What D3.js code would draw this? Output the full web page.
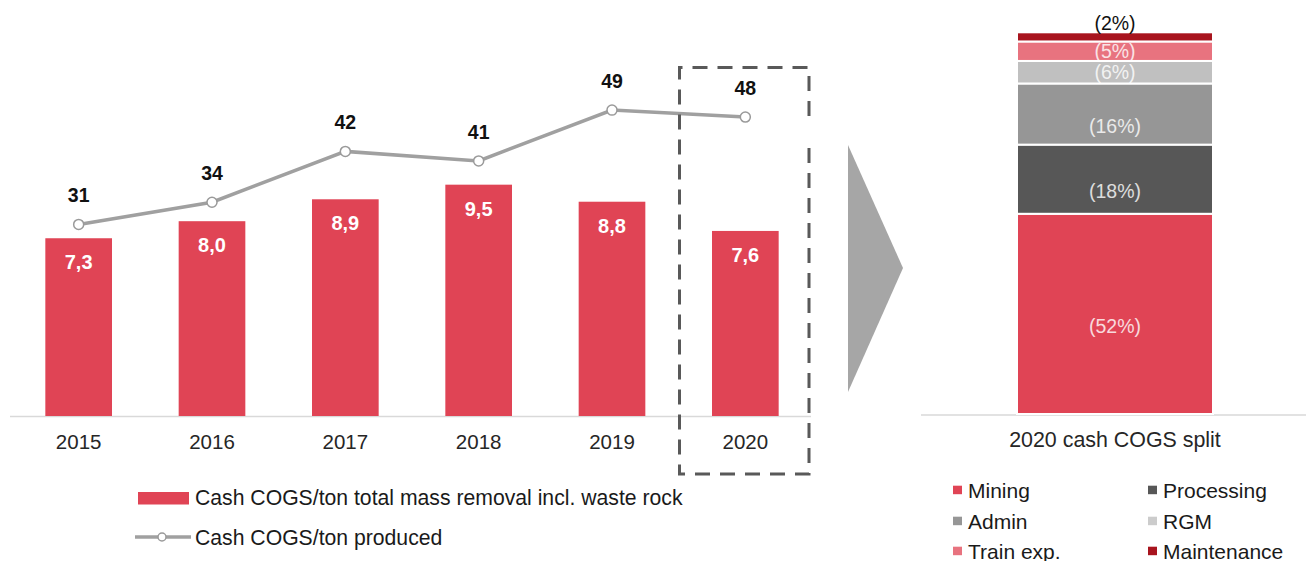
<!DOCTYPE html>
<html>
<head>
<meta charset="utf-8">
<script src="https://cdn.jsdelivr.net/npm/d3@7"></script>
<style>
  body { margin: 0; background: #fff; }
  svg text { font-family: Arial, "Liberation Sans", sans-serif; }
</style>
</head>
<body>
<svg id="chart" width="1306" height="561"></svg>
<script>
// left chart data
const years = ["2015", "2016", "2017", "2018", "2019", "2020"];
const cogsPerTonMass = [7.3, 8.0, 8.9, 9.5, 8.8, 7.6];
const cogsPerTonProduced = [30.8, 34.3, 42.3, 40.8, 48.8, 47.7];

// right chart data (2020 split, %)
const splitCategories = ["Mining", "Processing", "Admin", "RGM", "Train exp.", "Maintenance"];
const splitShares = [52.4, 18.1, 16.0, 5.9, 5.1, 2.4];
const splitTitle = "2020 cash COGS split";

const legendBar = "Cash COGS/ton total mass removal incl. waste rock";
const legendLine = "Cash COGS/ton produced";

const RED = "#e04455";
const splitColors = ["#e04455", "#575757", "#969696", "#c0c0c0", "#e8737f", "#a8141e"];
const legendColors = ["#e04455", "#575757", "#969696", "#cccccc", "#e8737f", "#a8141e"];

const svg = d3.select("#chart");
const commaFmt = d3.formatLocale({ decimal: ",", thousands: ".", grouping: [3], currency: ["", ""] }).format(".1f");

// ---------- left: bars + line ----------
const baseY = 416;
const x = d3.scaleBand().domain(years).range([12, 812]).paddingInner(0.5).paddingOuter(0.25);
const y = d3.scaleLinear().domain([0, 10]).range([baseY, baseY - 243.5]);
// secondary (hidden) axis for the line
const y2 = d3.scaleLinear().domain([0, 60]).range([420, 39]);

// baseline
svg.append("line")
  .attr("x1", 10).attr("x2", 811)
  .attr("y1", baseY + 0.5).attr("y2", baseY + 0.5)
  .attr("stroke", "#d9d9d9").attr("stroke-width", 1.5);

svg.append("g")
  .selectAll("rect")
  .data(cogsPerTonMass)
  .enter()
  .append("rect")
  .attr("x", (d, i) => x(years[i]))
  .attr("y", d => y(d))
  .attr("width", x.bandwidth())
  .attr("height", d => baseY - y(d))
  .attr("fill", RED);

svg.append("g")
  .selectAll("text")
  .data(cogsPerTonMass)
  .enter()
  .append("text")
  .attr("x", (d, i) => x(years[i]) + x.bandwidth() / 2)
  .attr("y", d => y(d) + 31)
  .attr("text-anchor", "middle")
  .style("font-size", "20px")
  .style("font-weight", "bold")
  .style("fill", "#fff")
  .text(d => commaFmt(d));

// x labels
svg.append("g")
  .selectAll("text")
  .data(years)
  .enter()
  .append("text")
  .attr("x", d => x(d) + x.bandwidth() / 2)
  .attr("y", 449)
  .attr("text-anchor", "middle")
  .style("font-size", "20.5px")
  .style("fill", "#262626")
  .text(d => d);

// line
const line = d3.line()
  .x((d, i) => x(years[i]) + x.bandwidth() / 2)
  .y(d => y2(d));

svg.append("path")
  .datum(cogsPerTonProduced)
  .attr("fill", "none")
  .attr("stroke", "#a0a0a0")
  .attr("stroke-width", 3.5)
  .attr("d", line);

svg.append("g")
  .selectAll("circle")
  .data(cogsPerTonProduced)
  .enter()
  .append("circle")
  .attr("cx", (d, i) => x(years[i]) + x.bandwidth() / 2)
  .attr("cy", d => y2(d))
  .attr("r", 5)
  .attr("fill", "#fff")
  .attr("stroke", "#9a9a9a")
  .attr("stroke-width", 1.5);

svg.append("g")
  .selectAll("text")
  .data(cogsPerTonProduced)
  .enter()
  .append("text")
  .attr("x", (d, i) => x(years[i]) + x.bandwidth() / 2)
  .attr("y", d => y2(d) - 22)
  .attr("text-anchor", "middle")
  .style("font-size", "19.5px")
  .style("font-weight", "bold")
  .style("fill", "#111")
  .text(d => Math.round(d));

// dashed highlight box round 2020 (right side has a gap)
const bx0 = 679.5, bx1 = 809, by0 = 67.5, by1 = 474;
svg.append("path")
  .attr("d", `M${bx1},116 L${bx1},${by0} L${bx0},${by0} L${bx0},${by1} L${bx1},${by1} L${bx1},145`)
  .attr("fill", "none")
  .attr("stroke", "#595959")
  .attr("stroke-width", 3)
  .attr("stroke-dasharray", "15,10");

// arrow
svg.append("path")
  .attr("d", "M848,145 L903,268 L848,392 Z")
  .attr("fill", "#a6a6a6");

// left legend
svg.append("rect")
  .attr("x", 138).attr("y", 492)
  .attr("width", 51).attr("height", 12.5)
  .attr("fill", RED);
svg.append("text")
  .attr("x", 195).attr("y", 505)
  .style("font-size", "21.2px").style("fill", "#1a1a1a")
  .text(legendBar);

svg.append("line")
  .attr("x1", 135).attr("x2", 191)
  .attr("y1", 537).attr("y2", 537)
  .attr("stroke", "#a0a0a0").attr("stroke-width", 3.5);
svg.append("circle")
  .attr("cx", 162).attr("cy", 537).attr("r", 4)
  .attr("fill", "#fff").attr("stroke", "#9a9a9a").attr("stroke-width", 1.5);
svg.append("text")
  .attr("x", 195).attr("y", 544.5)
  .style("font-size", "21.2px").style("fill", "#1a1a1a")
  .text(legendLine);

// ---------- right: stacked split ----------
const rBase = 414;
const total = d3.sum(splitShares);
const ys = d3.scaleLinear().domain([0, total]).range([rBase, 32.3]);
const barX0 = 1017, barW = 196;

svg.append("line")
  .attr("x1", 921).attr("x2", 1306)
  .attr("y1", rBase + 1).attr("y2", rBase + 1)
  .attr("stroke", "#d9d9d9").attr("stroke-width", 1.5);

let acc = 0;
const stacked = splitShares.map((v, i) => {
  const s = { cat: splitCategories[i], v: v, y0: acc, y1: acc + v, i: i };
  acc += v;
  return s;
});

svg.append("g")
  .selectAll("rect")
  .data(stacked)
  .enter()
  .append("rect")
  .attr("x", barX0)
  .attr("y", d => ys(d.y1))
  .attr("width", barW)
  .attr("height", d => ys(d.y0) - ys(d.y1))
  .attr("fill", d => splitColors[d.i])
  .attr("stroke", "#fff")
  .attr("stroke-width", 2);

svg.append("g")
  .selectAll("text")
  .data(stacked)
  .enter()
  .append("text")
  .attr("x", barX0 + barW / 2)
  .attr("y", d => {
    const h = ys(d.y0) - ys(d.y1);
    const mid = (ys(d.y0) + ys(d.y1)) / 2;
    if (h < 15) return ys(d.y1) - 2;      // tiny slice: label sits on top
    return mid + 7 + (h > 40 ? 12 : 0);
  })
  .attr("text-anchor", "middle")
  .style("font-size", "19.5px")
  .style("fill", d => (ys(d.y0) - ys(d.y1) < 15 ? "#111" : "#fff"))
  .style("opacity", d => (ys(d.y0) - ys(d.y1) < 15 ? 1 : 0.8))
  .text(d => "(" + Math.round(d.v) + "%)");

svg.append("text")
  .attr("x", barX0 + barW / 2)
  .attr("y", 446.5)
  .attr("text-anchor", "middle")
  .style("font-size", "21.4px")
  .style("fill", "#262626")
  .text(splitTitle);

// right legend, two columns
const legCols = [953, 1148];
const legRows = [490.7, 521.7, 551.7];
const rl = svg.append("g")
  .selectAll("g")
  .data(splitCategories)
  .enter()
  .append("g")
  .attr("transform", (d, i) => `translate(${legCols[i % 2]},${legRows[Math.floor(i / 2)]})`);
rl.append("rect")
  .attr("x", 0).attr("y", -5)
  .attr("width", 9).attr("height", 8.5)
  .attr("fill", (d, i) => legendColors[i]);
rl.append("text")
  .attr("x", 15).attr("y", 7.5)
  .style("font-size", "21px")
  .style("fill", "#1a1a1a")
  .text(d => d);
</script>
</body>
</html>
